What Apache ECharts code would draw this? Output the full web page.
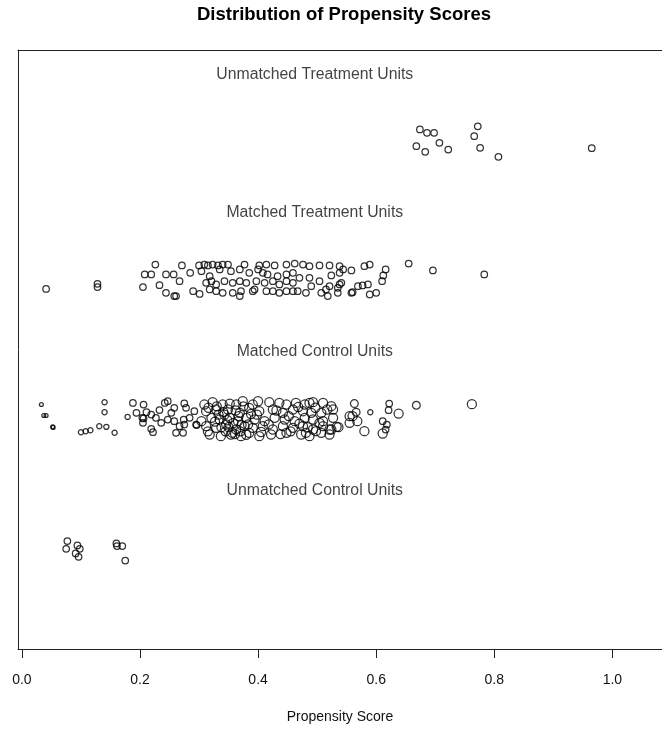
<!DOCTYPE html>
<html>
<head>
<meta charset="utf-8">
<script src="https://cdn.jsdelivr.net/npm/echarts@6/dist/echarts.min.js"></script>
<style>
  html, body { margin: 0; padding: 0; background: #fff; }
  #chart { width: 662px; height: 729px; }
</style>
</head>
<body>
<div id="chart"></div>
<script>
// propensity score + vertical jitter for each group
const unmatchedTreated = [
  [0.674, 0.087], [0.686, 0.063], [0.698, 0.063], [0.668, -0.034], [0.683, -0.074],
  [0.707, -0.009], [0.722, -0.058], [0.772, 0.110], [0.766, 0.038], [0.776, -0.045],
  [0.807, -0.110], [0.965, -0.048]
];

const matchedTreated = [
  [0.041, -0.063], [0.128, -0.026], [0.128, -0.050], [0.205, -0.050], [0.226, 0.113],
  [0.208, 0.041], [0.219, 0.041], [0.233, -0.036], [0.244, 0.041], [0.257, 0.041],
  [0.244, -0.091], [0.258, -0.115], [0.261, -0.115], [0.271, 0.106], [0.267, -0.007],
  [0.285, 0.053], [0.290, -0.079], [0.301, -0.099],
  [0.300, 0.106], [0.309, 0.113], [0.315, 0.106], [0.323, 0.113], [0.332, 0.106],
  [0.340, 0.113], [0.349, 0.113], [0.377, 0.113], [0.402, 0.106], [0.414, 0.113],
  [0.428, 0.106], [0.448, 0.113], [0.462, 0.120],
  [0.304, 0.065], [0.318, 0.029], [0.335, 0.077], [0.354, 0.065], [0.369, 0.077],
  [0.385, 0.053], [0.400, 0.077], [0.408, 0.053], [0.416, 0.041], [0.433, 0.029],
  [0.448, 0.041], [0.459, 0.053],
  [0.312, -0.019], [0.321, -0.007], [0.329, -0.031], [0.343, -0.007], [0.357, -0.019],
  [0.369, -0.007], [0.380, -0.019], [0.397, -0.007], [0.411, -0.019], [0.425, -0.007],
  [0.436, -0.031], [0.448, -0.007], [0.459, -0.019],
  [0.318, -0.067], [0.329, -0.079], [0.340, -0.091], [0.357, -0.091], [0.369, -0.115],
  [0.371, -0.079], [0.391, -0.079], [0.394, -0.067], [0.414, -0.079], [0.425, -0.079],
  [0.436, -0.091], [0.448, -0.079], [0.459, -0.079], [0.467, -0.079],
  [0.476, 0.113], [0.487, 0.101], [0.504, 0.106], [0.521, 0.106], [0.538, 0.101],
  [0.544, 0.077], [0.558, 0.070], [0.580, 0.101], [0.589, 0.113], [0.616, 0.077],
  [0.612, 0.034], [0.610, -0.007], [0.655, 0.120], [0.696, 0.070], [0.783, 0.041],
  [0.470, 0.017], [0.487, 0.017], [0.504, -0.007], [0.524, 0.034], [0.538, 0.053],
  [0.541, -0.019], [0.481, -0.091], [0.507, -0.091], [0.518, -0.115], [0.515, -0.067],
  [0.535, -0.091], [0.558, -0.091], [0.560, -0.087], [0.569, -0.043], [0.577, -0.038],
  [0.586, -0.031], [0.589, -0.103], [0.600, -0.091], [0.490, -0.043], [0.521, -0.043],
  [0.538, -0.031], [0.535, -0.055]
];

// score, jitter, matching weight
const matchedControl = [
  [0.033, 0.103, 0.6], [0.037, 0.024, 0.6], [0.041, 0.024, 0.6], [0.052, -0.058, 0.6], [0.053, -0.062, 0.6],
  [0.140, 0.120, 0.8], [0.140, 0.048, 0.8], [0.100, -0.097, 0.8], [0.108, -0.089, 0.8], [0.116, -0.082, 0.8],
  [0.131, -0.053, 0.8], [0.143, -0.058, 0.8], [0.157, -0.101, 0.8], [0.179, 0.014, 0.8],
  [0.188, 0.115, 1.0], [0.194, 0.043, 1.0], [0.206, 0.103, 1.0], [0.211, 0.048, 1.0], [0.204, 0.007, 1.0],
  [0.206, 0.003, 1.0], [0.205, -0.029, 1.0], [0.219, 0.031, 1.0], [0.227, 0.007, 1.0], [0.233, 0.063, 1.0],
  [0.242, 0.115, 1.0], [0.247, 0.127, 1.0], [0.219, -0.072, 1.0], [0.222, -0.096, 1.0], [0.236, -0.029, 1.0],
  [0.247, -0.005, 1.0], [0.253, 0.043, 1.0], [0.258, 0.079, 1.0], [0.261, -0.101, 1.0], [0.273, -0.101, 1.0],
  [0.267, -0.053, 1.0], [0.258, -0.017, 1.0], [0.278, 0.079, 1.0], [0.275, 0.111, 1.0], [0.274, -0.005, 1.0],
  [0.275, -0.041, 1.0], [0.284, 0.007, 1.0], [0.295, -0.041, 1.0], [0.296, -0.045, 1.0], [0.292, 0.055, 1.0],
  [0.309, 0.103, 1.4], [0.323, 0.120, 1.4], [0.340, 0.103, 1.4], [0.363, 0.103, 1.4], [0.374, 0.127, 1.4],
  [0.391, 0.103, 1.4], [0.400, 0.127, 1.4], [0.419, 0.120, 1.4], [0.436, 0.115, 1.4], [0.448, 0.103, 1.4],
  [0.464, 0.115, 1.4], [0.479, 0.103, 1.4], [0.493, 0.120, 1.4], [0.510, 0.115, 1.4], [0.524, 0.091, 1.4],
  [0.312, 0.055, 1.4], [0.329, 0.067, 1.4], [0.349, 0.067, 1.4], [0.369, 0.043, 1.4], [0.385, 0.079, 1.4],
  [0.402, 0.055, 1.4], [0.425, 0.067, 1.4], [0.442, 0.043, 1.4], [0.459, 0.067, 1.4], [0.476, 0.055, 1.4],
  [0.490, 0.043, 1.4], [0.507, 0.043, 1.4], [0.527, 0.067, 1.4],
  [0.304, -0.017, 1.4], [0.321, 0.007, 1.4], [0.335, -0.005, 1.4], [0.352, 0.007, 1.4], [0.366, -0.017, 1.4],
  [0.380, 0.007, 1.4], [0.394, -0.005, 1.4], [0.411, -0.017, 1.4], [0.428, 0.007, 1.4], [0.445, -0.005, 1.4],
  [0.462, -0.017, 1.4], [0.479, 0.007, 1.4], [0.493, -0.005, 1.4], [0.510, -0.017, 1.4], [0.527, 0.007, 1.4],
  [0.312, -0.053, 1.4], [0.329, -0.065, 1.4], [0.346, -0.041, 1.4], [0.363, -0.077, 1.4], [0.377, -0.053, 1.4],
  [0.391, -0.065, 1.4], [0.408, -0.053, 1.4], [0.425, -0.077, 1.4], [0.442, -0.053, 1.4], [0.459, -0.065, 1.4],
  [0.476, -0.053, 1.4], [0.493, -0.077, 1.4], [0.510, -0.053, 1.4], [0.524, -0.077, 1.4],
  [0.318, -0.113, 1.4], [0.337, -0.125, 1.4], [0.354, -0.113, 1.4], [0.371, -0.125, 1.4], [0.385, -0.101, 1.4],
  [0.402, -0.125, 1.4], [0.422, -0.113, 1.4], [0.448, -0.101, 1.4], [0.473, -0.113, 1.4], [0.487, -0.125, 1.4],
  [0.507, -0.101, 1.4], [0.521, -0.113, 1.4],
  [0.330, 0.090, 1.4], [0.343, 0.030, 1.4], [0.358, -0.030, 1.4], [0.345, -0.090, 1.4], [0.362, 0.060, 1.4],
  [0.338, -0.060, 1.4], [0.370, -0.090, 1.4], [0.333, 0.030, 1.4], [0.356, -0.100, 1.4], [0.367, 0.020, 1.4],
  [0.316, 0.080, 1.4], [0.327, -0.020, 1.4], [0.341, 0.050, 1.4], [0.350, -0.060, 1.4], [0.361, -0.110, 1.4],
  [0.375, 0.090, 1.4], [0.383, -0.040, 1.4], [0.398, 0.030, 1.4], [0.405, -0.095, 1.4], [0.418, -0.040, 1.4],
  [0.431, 0.060, 1.4], [0.438, -0.110, 1.4], [0.452, 0.020, 1.4], [0.455, -0.090, 1.4], [0.468, 0.085, 1.4],
  [0.470, -0.035, 1.4], [0.484, -0.060, 1.4], [0.497, 0.080, 1.4], [0.315, -0.090, 1.4], [0.352, 0.110, 1.4],
  [0.380, -0.115, 1.4], [0.348, -0.010, 1.4], [0.372, -0.045, 1.4], [0.388, 0.035, 1.4],
  [0.487, 0.115, 1.4], [0.504, -0.029, 1.4], [0.481, -0.101, 1.4], [0.498, -0.089, 1.4], [0.521, -0.077, 1.4],
  [0.517, 0.067, 1.4], [0.563, 0.110, 1.2], [0.566, 0.048, 1.2], [0.555, 0.019, 1.4], [0.560, 0.019, 1.4],
  [0.568, -0.017, 1.4], [0.555, -0.029, 1.4], [0.533, -0.058, 1.4], [0.536, -0.060, 1.4], [0.580, -0.089, 1.4],
  [0.590, 0.048, 0.8], [0.622, 0.110, 1.0], [0.621, 0.062, 1.0], [0.638, 0.038, 1.4], [0.668, 0.098, 1.2],
  [0.611, -0.017, 1.0], [0.618, -0.041, 1.0], [0.611, -0.106, 1.4], [0.616, -0.077, 1.0], [0.762, 0.106, 1.4]
];

const unmatchedControl = [
  [0.077, 0.118], [0.075, 0.063], [0.094, 0.087], [0.098, 0.063], [0.091, 0.029],
  [0.096, 0.005], [0.160, 0.101], [0.170, 0.082], [0.161, 0.082], [0.175, -0.022]
];

const groupLabels = ['Unmatched Treatment Units', 'Matched Treatment Units', 'Matched Control Units', 'Unmatched Control Units'];
const groupLevels = [4, 3, 2, 1];
const tickValues = [0, 0.2, 0.4, 0.6, 0.8, 1.0];

const chart = echarts.init(document.getElementById('chart'));

const ink = '#000';
const frame = '#222';

function points(list, level) {
  return list.map(p => [p[0], level + p[1], p[2] == null ? 1 : p[2]]);
}

function pointSeries(name, list, level) {
  return {
    name: name,
    type: 'scatter',
    data: points(list, level),
    symbol: 'circle',
    symbolSize: v => 6.5 * v[2],
    itemStyle: { color: 'transparent', borderColor: ink, borderWidth: 1.25 },
    emphasis: { disabled: true },
    silent: true
  };
}

const option = {
  animation: false,
  backgroundColor: '#fff',
  textStyle: { fontFamily: 'Liberation Sans, Arial, sans-serif' },
  graphic: [{
    type: 'text',
    x: 344,
    y: 15,
    style: {
      text: 'Distribution of Propensity Scores',
      font: 'bold 18.5px "Liberation Sans", Arial, sans-serif',
      fill: '#000',
      textAlign: 'center',
      textVerticalAlign: 'middle'
    }
  }],
  grid: {
    left: 18,
    top: 50,
    bottom: 79,
    right: 0,
    show: false
  },
  xAxis: [{
    type: 'value',
    min: -0.0066,
    max: 1.084,
    name: 'Propensity Score',
    nameLocation: 'middle',
    nameGap: 61,
    nameTextStyle: { fontSize: 14, color: '#111' },
    axisLine: { show: true, onZero: false, lineStyle: { color: frame } },
    axisTick: { show: true, length: 9, lineStyle: { color: frame }, customValues: tickValues },
    axisLabel: {
      fontSize: 14,
      color: '#111',
      margin: 24,
      customValues: tickValues,
      formatter: v => v.toFixed(1)
    },
    splitLine: { show: false }
  }, {
    // top edge of the frame
    type: 'value',
    position: 'top',
    min: -0.0066,
    max: 1.084,
    axisLine: { show: true, onZero: false, lineStyle: { color: frame } },
    axisTick: { show: false },
    axisLabel: { show: false },
    splitLine: { show: false }
  }],
  yAxis: {
    type: 'value',
    min: 0.34,
    max: 4.66,
    axisLine: { show: true, onZero: false, lineStyle: { color: frame } },
    axisTick: { show: false },
    axisLabel: { show: false },
    splitLine: { show: false }
  },
  series: [
    pointSeries('Unmatched Treatment Units', unmatchedTreated, 4),
    pointSeries('Matched Treatment Units', matchedTreated, 3),
    pointSeries('Matched Control Units', matchedControl, 2),
    pointSeries('Unmatched Control Units', unmatchedControl, 1),
    {
      name: 'labels',
      type: 'scatter',
      symbolSize: 0.1,
      itemStyle: { color: 'transparent' },
      silent: true,
      data: groupLabels.map((t, i) => [0.496, groupLevels[i] + 0.485, t]),
      label: {
        show: true,
        position: 'inside',
        formatter: p => p.value[2],
        fontSize: 15.8,
        color: '#111'
      }
    }
  ]
};

chart.setOption(option);
</script>
</body>
</html>
